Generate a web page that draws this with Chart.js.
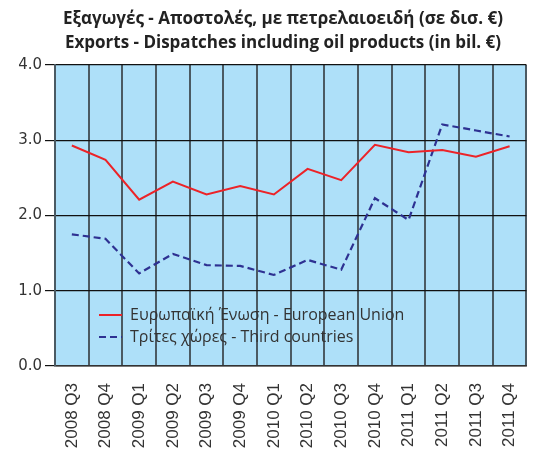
<!DOCTYPE html>
<html>
<head>
<meta charset="utf-8">
<script src="https://cdn.jsdelivr.net/npm/chart.js@4.4.1/dist/chart.umd.min.js"></script>
<style>
  html, body { margin: 0; padding: 0; background: #ffffff; }
  #wrap { width: 547px; height: 449px; position: relative; }
</style>
</head>
<body>
<div id="wrap"><canvas id="chart"></canvas></div>
<script>
// Quarterly exports / dispatches including oil products, billion euro
const categories = ['2008 Q3', '2008 Q4', '2009 Q1', '2009 Q2', '2009 Q3', '2009 Q4', '2010 Q1',
                    '2010 Q2', '2010 Q3', '2010 Q4', '2011 Q1', '2011 Q2', '2011 Q3', '2011 Q4'];
const euValues    = [2.93, 2.74, 2.21, 2.45, 2.28, 2.39, 2.28, 2.62, 2.47, 2.94, 2.84, 2.87, 2.78, 2.92];
const thirdValues = [1.75, 1.69, 1.23, 1.49, 1.34, 1.33, 1.21, 1.41, 1.28, 2.23, 1.94, 3.21, 3.13, 3.05];
const seriesNames = ['Ευρωπαϊκή Ένωση - European Union', 'Τρίτες χώρες - Third countries'];
const titleLines  = ['Εξαγωγές - Αποστολές, με πετρελαιοειδή (σε δισ. €)',
                     'Exports - Dispatches including oil products (in bil. €)'];
const yTicks = [0, 1, 2, 3, 4];

const TEXT_FONT = '"Open Sans", "Noto Sans", sans-serif';

// Light blue plot background
const plotBackground = {
  id: 'plotBackground',
  beforeDraw(chart) {
    const { ctx, chartArea: a } = chart;
    ctx.save();
    ctx.fillStyle = '#aee0f9';
    ctx.fillRect(a.left, a.top, a.right - a.left, a.bottom - a.top);
    ctx.restore();
  }
};

// Two-line bilingual heading
const headingPlugin = {
  id: 'heading',
  afterDraw(chart) {
    const { ctx } = chart;
    ctx.save();
    ctx.fillStyle = '#222222';
    ctx.font = 'bold 17px ' + TEXT_FONT;
    ctx.textAlign = 'center';
    ctx.textBaseline = 'middle';
    ctx.fillText(titleLines[0], 283, 19);
    ctx.fillText(titleLines[1], 283, 43);
    ctx.restore();
  }
};

// Legend placed inside the plot area, lower left
const insideLegend = {
  id: 'insideLegend',
  afterDatasetsDraw(chart) {
    const { ctx } = chart;
    ctx.save();
    ctx.font = '16px ' + TEXT_FONT;
    ctx.textBaseline = 'middle';
    const x0 = 99, y0 = 315, step = 22;
    chart.data.datasets.forEach((ds, i) => {
      const y = y0 + i * step;
      ctx.strokeStyle = ds.borderColor;
      ctx.lineWidth = 2;
      ctx.setLineDash(ds.borderDash || []);
      ctx.beginPath();
      ctx.moveTo(x0, y);
      ctx.lineTo(x0 + 23, y);
      ctx.stroke();
      ctx.setLineDash([]);
      ctx.fillStyle = '#333333';
      ctx.fillText(ds.label, x0 + 31, y);
    });
    ctx.restore();
  }
};

new Chart(document.getElementById('chart'), {
  type: 'line',
  data: {
    labels: categories,
    datasets: [
      {
        label: seriesNames[0],
        data: euValues,
        borderColor: '#ec2328',
        borderWidth: 2,
        pointRadius: 0,
        tension: 0,
        fill: false
      },
      {
        label: seriesNames[1],
        data: thirdValues,
        borderColor: '#2e3192',
        borderWidth: 2.2,
        borderDash: [7, 4],
        pointRadius: 0,
        tension: 0,
        fill: false
      }
    ]
  },
  options: {
    responsive: true,
    maintainAspectRatio: false,
    animation: false,
    layout: { padding: { top: 65, right: 0, bottom: 0, left: 0 } },
    plugins: {
      legend: { display: false },
      title: { display: false },
      tooltip: { enabled: false }
    },
    scales: {
      x: {
        offset: true,
        grid: {
          offset: true,
          color: '#4b5a63',
          lineWidth: 2,
          drawTicks: false
        },
        border: { display: true, color: '#333333', width: 1.5 },
        ticks: {
          minRotation: 90,
          maxRotation: 90,
          autoSkip: false,
          padding: 17,
          color: '#333333',
          font: { family: '"Liberation Sans", Arial, sans-serif', size: 17 }
        },
        afterFit(scale) { scale.height = 83; }
      },
      y: {
        min: 0,
        max: 4,
        afterBuildTicks(scale) { scale.ticks = yTicks.map(v => ({ value: v })); },
        grid: {
          color: '#111111',
          lineWidth: 1.2,
          tickLength: 10
        },
        border: { display: true, color: '#4b5a63', width: 2 },
        ticks: {
          padding: 3,
          color: '#333333',
          font: { family: '"DejaVu Sans", Verdana, sans-serif', size: 15 },
          callback: v => Number(v).toFixed(1)
        },
        afterFit(scale) { scale.width = 55; }
      }
    }
  },
  plugins: [plotBackground, headingPlugin, insideLegend]
});
</script>
</body>
</html>
